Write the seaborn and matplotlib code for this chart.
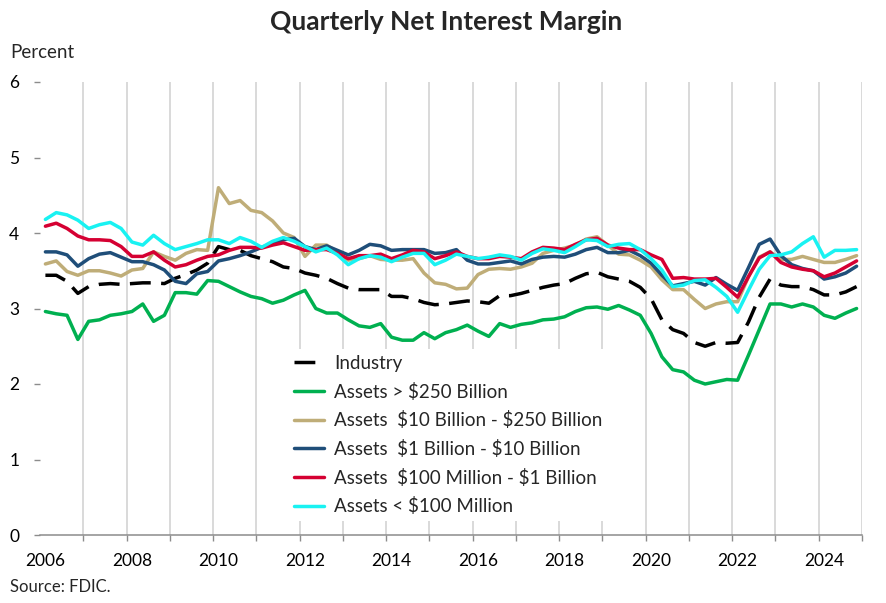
import numpy as np
import pandas as pd
import seaborn as sns
import matplotlib.pyplot as plt
from matplotlib.ticker import FixedLocator

# quarterly categories 2006Q1 .. 2024Q4
quarters = [f"{y}Q{q}" for y in range(2006, 2025) for q in range(1, 5)]
tick_labels = ["2006", "2008", "2010", "2012", "2014", "2016", "2018", "2020", "2022", "2024"]

industry = [3.44, 3.44, 3.36, 3.20, 3.29, 3.32, 3.33, 3.32, 3.33, 3.34, 3.34, 3.33, 3.40, 3.45,
            3.51, 3.60, 3.82, 3.78, 3.77, 3.70, 3.66, 3.62, 3.55, 3.53, 3.47, 3.44, 3.40,
            3.33, 3.27, 3.25, 3.25, 3.25, 3.16, 3.16, 3.13, 3.08, 3.05, 3.06, 3.08, 3.10,
            3.09, 3.07, 3.17, 3.17, 3.20, 3.24, 3.28, 3.31, 3.33, 3.40, 3.46, 3.48, 3.42, 3.39,
            3.36, 3.28, 3.13, 2.85, 2.72, 2.67, 2.55, 2.50, 2.55, 2.54, 2.55, 2.82, 3.15,
            3.39, 3.31, 3.29, 3.29, 3.25, 3.18, 3.18, 3.22, 3.29]
over_250b = [2.96, 2.93, 2.91, 2.59, 2.83, 2.85, 2.91, 2.93, 2.96, 3.06, 2.83, 2.91, 3.21, 3.21,
             3.19, 3.37, 3.36, 3.29, 3.22, 3.16, 3.13, 3.07, 3.11, 3.18, 3.24, 3.00, 2.94,
             2.94, 2.85, 2.77, 2.75, 2.80, 2.62, 2.58, 2.58, 2.68, 2.60, 2.68, 2.72, 2.78,
             2.70, 2.63, 2.80, 2.75, 2.79, 2.81, 2.85, 2.86, 2.89, 2.96, 3.01, 3.02, 2.99, 3.04,
             2.98, 2.91, 2.67, 2.36, 2.19, 2.16, 2.05, 2.00, 2.03, 2.06, 2.05, 2.38, 2.72,
             3.06, 3.06, 3.02, 3.06, 3.02, 2.91, 2.87, 2.94, 3.00]
b10_250 = [3.59, 3.63, 3.49, 3.44, 3.50, 3.50, 3.47, 3.43, 3.51, 3.53, 3.75, 3.69, 3.64, 3.73,
           3.78, 3.77, 4.60, 4.39, 4.43, 4.30, 4.27, 4.16, 4.00, 3.94, 3.69, 3.84, 3.84,
           3.75, 3.64, 3.66, 3.70, 3.65, 3.64, 3.64, 3.66, 3.47, 3.34, 3.32, 3.26, 3.27,
           3.45, 3.52, 3.53, 3.52, 3.55, 3.60, 3.73, 3.77, 3.80, 3.84, 3.92, 3.95, 3.84, 3.72,
           3.71, 3.64, 3.55, 3.38, 3.25, 3.25, 3.12, 3.00, 3.06, 3.09, 3.09, 3.42, 3.68,
           3.75, 3.65, 3.65, 3.69, 3.65, 3.61, 3.61, 3.65, 3.70]
b1_10 = [3.75, 3.75, 3.71, 3.56, 3.66, 3.72, 3.74, 3.68, 3.62, 3.62, 3.58, 3.51, 3.36, 3.33,
         3.46, 3.49, 3.63, 3.66, 3.70, 3.75, 3.81, 3.86, 3.91, 3.93, 3.82, 3.78, 3.83,
         3.77, 3.71, 3.77, 3.85, 3.83, 3.77, 3.78, 3.78, 3.78, 3.73, 3.74, 3.78, 3.64,
         3.59, 3.59, 3.61, 3.63, 3.59, 3.65, 3.68, 3.69, 3.68, 3.72, 3.78, 3.81, 3.74, 3.74,
         3.77, 3.70, 3.60, 3.44, 3.30, 3.33, 3.36, 3.31, 3.41, 3.32, 3.24, 3.54, 3.85,
         3.92, 3.70, 3.58, 3.53, 3.50, 3.39, 3.42, 3.47, 3.56]
m100_1b = [4.09, 4.13, 4.06, 3.96, 3.91, 3.91, 3.90, 3.82, 3.69, 3.69, 3.75, 3.64, 3.55, 3.58,
           3.64, 3.69, 3.71, 3.77, 3.81, 3.81, 3.80, 3.84, 3.87, 3.82, 3.77, 3.78, 3.78,
           3.73, 3.66, 3.70, 3.70, 3.72, 3.66, 3.71, 3.77, 3.75, 3.66, 3.70, 3.75, 3.69,
           3.66, 3.66, 3.69, 3.68, 3.66, 3.75, 3.81, 3.80, 3.78, 3.85, 3.91, 3.93, 3.84, 3.80,
           3.78, 3.78, 3.71, 3.65, 3.40, 3.41, 3.39, 3.39, 3.40, 3.28, 3.15, 3.42, 3.67,
           3.75, 3.61, 3.55, 3.52, 3.50, 3.42, 3.47, 3.55, 3.63]
under_100m = [4.18, 4.27, 4.24, 4.17, 4.06, 4.11, 4.14, 4.06, 3.88, 3.84, 3.97, 3.86, 3.78, 3.82,
              3.86, 3.91, 3.91, 3.86, 3.94, 3.89, 3.81, 3.89, 3.94, 3.89, 3.82, 3.75, 3.80,
              3.71, 3.58, 3.66, 3.70, 3.68, 3.62, 3.68, 3.73, 3.73, 3.58, 3.64, 3.72, 3.69,
              3.66, 3.68, 3.71, 3.69, 3.64, 3.73, 3.79, 3.77, 3.74, 3.82, 3.91, 3.90, 3.82, 3.85,
              3.86, 3.78, 3.66, 3.51, 3.29, 3.31, 3.37, 3.38, 3.28, 3.16, 2.95, 3.24, 3.52,
              3.70, 3.71, 3.75, 3.86, 3.95, 3.68, 3.77, 3.77, 3.78]

series = [
    ("Industry", industry, "#000000", (0, (6, 3))),
    (r"Assets > \$250 Billion", over_250b, "#00B050", "-"),
    (r"Assets  \$10 Billion - \$250 Billion", b10_250, "#BFAD78", "-"),
    (r"Assets  \$1 Billion - \$10 Billion", b1_10, "#1F4E79", "-"),
    (r"Assets  \$100 Million - \$1 Billion", m100_1b, "#D50032", "-"),
    (r"Assets < \$100 Million", under_100m, "#19F2F2", "-"),
]

df = pd.DataFrame({name: vals for name, vals, _, _ in series})
df["quarter"] = quarters
df["t"] = np.arange(len(df))

sns.set_theme(style="white")
plt.rcParams["font.family"] = ["Lato", "DejaVu Sans"]

fig = plt.figure(figsize=(8.86, 6.03), dpi=100)
ax = fig.add_axes([40 / 886, 1 - 535 / 603, 822 / 886, 453 / 603])

for name, vals, col, ls in series:
    sns.lineplot(data=df, x="t", y=name, ax=ax, color=col, linewidth=2.5,
                 linestyle=ls, label=name)

ax.set_xlim(-0.5, 75.5)
ax.set_ylim(0, 6)
ax.set_yticks(range(7))
ax.set_xlabel("")
ax.set_ylabel("")

major = [quarters.index(f"{lab}Q1") for lab in tick_labels]
ax.set_xticks(major)
ax.set_xticklabels(tick_labels)
bounds = [quarters.index(f"{y}Q1") - 0.5 for y in range(2007, 2025)] + [75.5]
ax.xaxis.set_minor_locator(FixedLocator(bounds))
ax.grid(which="minor", axis="x", color="#d9d9d9", linewidth=1.4)
ax.grid(which="major", visible=False)

for s in ["top", "right", "left"]:
    ax.spines[s].set_visible(False)
ax.spines["bottom"].set_color("#8c8c8c")
ax.spines["bottom"].set_linewidth(1.1)

ax.tick_params(axis="x", which="major", length=0, pad=13, labelsize=12.5, colors="black")
ax.tick_params(axis="x", which="minor", length=4, width=1, color="#8c8c8c", bottom=True)
ax.tick_params(axis="y", length=4, width=1, color="#8c8c8c", left=True, pad=11,
               labelsize=12.5, labelcolor="black")

leg = ax.legend(loc="upper left", bbox_to_anchor=(0.302, 0.41), frameon=True,
                facecolor="white", edgecolor="none", framealpha=1, fontsize=13.5,
                handlelength=1.6, handletextpad=0.55, labelspacing=0.57,
                borderaxespad=0, borderpad=0.3)
leg.set_zorder(5)

fig.text(446 / 886, 1 - 22 / 603, "Quarterly Net Interest Margin", ha="center",
         va="center", fontsize=19, fontweight="bold")
fig.text(10 / 886, 1 - 52 / 603, "Percent", ha="left", va="center", fontsize=13.5)
fig.text(10 / 886, 1 - 587 / 603, "Source: FDIC.", ha="left", va="center", fontsize=12)

fig.savefig("out.png", dpi=100)
